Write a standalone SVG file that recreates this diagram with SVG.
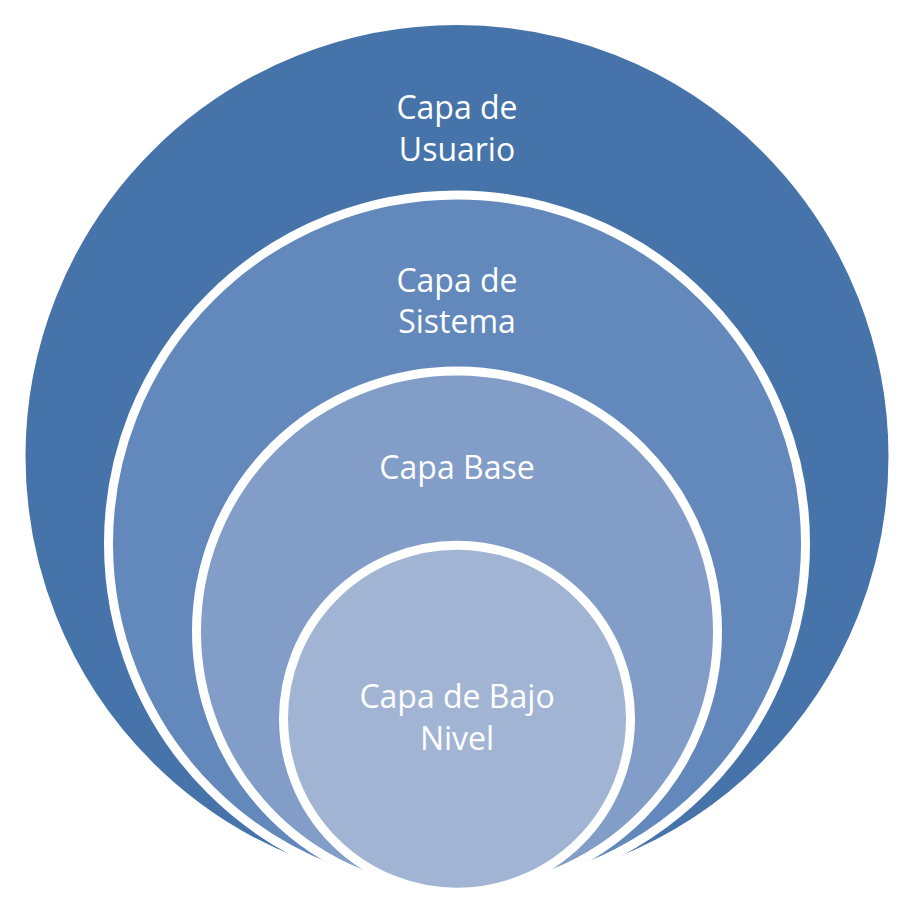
<svg xmlns="http://www.w3.org/2000/svg" width="914" height="914" viewBox="0 0 914 914">
  <style>
    .ring { stroke: #ffffff; stroke-width: 9; }
    .lbl { font-family: "Open Sans", "Noto Sans", sans-serif; font-size: 32px; fill: #ffffff; text-anchor: middle; }
  </style>
  <rect x="0" y="0" width="914" height="914" fill="#ffffff"/>
  <g id="capa-usuario">
    <circle class="ring" cx="457" cy="456.5" r="436" fill="#4674AA"/>
    <text class="lbl" x="457" y="119">Capa de</text>
    <text class="lbl" x="457" y="161">Usuario</text>
  </g>
  <g id="capa-sistema">
    <circle class="ring" cx="457" cy="543.5" r="348.5" fill="#6388BC"/>
    <text class="lbl" x="457" y="292">Capa de</text>
    <text class="lbl" x="457" y="333">Sistema</text>
  </g>
  <g id="capa-base">
    <circle class="ring" cx="457" cy="631.5" r="260.5" fill="#819DC8"/>
    <text class="lbl" x="457" y="479">Capa Base</text>
  </g>
  <g id="capa-bajo-nivel">
    <circle class="ring" cx="457" cy="718.7" r="173.5" fill="#A2B4D4"/>
    <text class="lbl" x="457" y="708">Capa de Bajo</text>
    <text class="lbl" x="457" y="750">Nivel</text>
  </g>
  <g id="connectors"/>
</svg>
